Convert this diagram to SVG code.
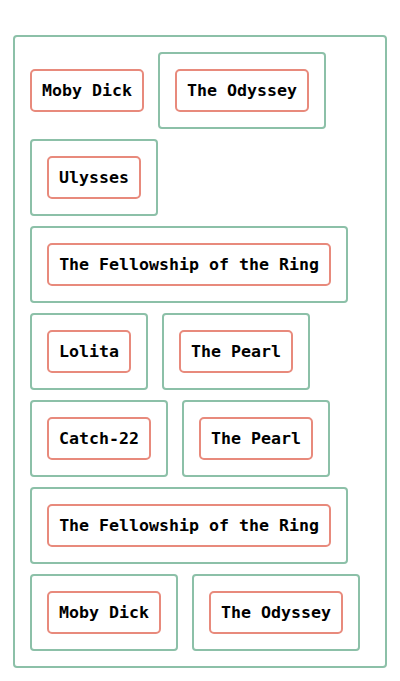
<svg xmlns="http://www.w3.org/2000/svg" width="400" height="681" viewBox="0 0 400 681">
<style>
.g{fill:#ffffff;stroke:#8cc0a8;stroke-width:2}
.r{fill:#ffffff;stroke:#e88a7c;stroke-width:2}
.t{font-family:"DejaVu Sans Mono",monospace;font-weight:bold;font-size:16.6px;fill:#000;text-anchor:middle;dominant-baseline:central}
</style>
<rect width="400" height="681" fill="#ffffff"/>
<g id="root"><rect class="g" x="14" y="36" width="372" height="631" rx="3"/></g>
<g id="n1"><rect class="r" x="31" y="70" width="112" height="41" rx="4"/><text class="t" x="87" y="90.5">Moby Dick</text></g>
<g id="c2"><rect class="g" x="159" y="53" width="166" height="75" rx="3"/></g>
<g id="n2"><rect class="r" x="176" y="70" width="132" height="41" rx="4"/><text class="t" x="242" y="90.5">The Odyssey</text></g>
<g id="c3"><rect class="g" x="31" y="140" width="126" height="75" rx="3"/></g>
<g id="n3"><rect class="r" x="48" y="157" width="92" height="41" rx="4"/><text class="t" x="94" y="177.5">Ulysses</text></g>
<g id="c4"><rect class="g" x="31" y="227" width="316" height="75" rx="3"/></g>
<g id="n4"><rect class="r" x="48" y="244" width="282" height="41" rx="4"/><text class="t" x="189" y="264.5">The Fellowship of the Ring</text></g>
<g id="c5"><rect class="g" x="31" y="314" width="116" height="75" rx="3"/></g>
<g id="n5"><rect class="r" x="48" y="331" width="82" height="41" rx="4"/><text class="t" x="89" y="351.5">Lolita</text></g>
<g id="c6"><rect class="g" x="163" y="314" width="146" height="75" rx="3"/></g>
<g id="n6"><rect class="r" x="180" y="331" width="112" height="41" rx="4"/><text class="t" x="236" y="351.5">The Pearl</text></g>
<g id="c7"><rect class="g" x="31" y="401" width="136" height="75" rx="3"/></g>
<g id="n7"><rect class="r" x="48" y="418" width="102" height="41" rx="4"/><text class="t" x="99" y="438.5">Catch-22</text></g>
<g id="c8"><rect class="g" x="183" y="401" width="146" height="75" rx="3"/></g>
<g id="n8"><rect class="r" x="200" y="418" width="112" height="41" rx="4"/><text class="t" x="256" y="438.5">The Pearl</text></g>
<g id="c9"><rect class="g" x="31" y="488" width="316" height="75" rx="3"/></g>
<g id="n9"><rect class="r" x="48" y="505" width="282" height="41" rx="4"/><text class="t" x="189" y="525.5">The Fellowship of the Ring</text></g>
<g id="c10"><rect class="g" x="31" y="575" width="146" height="75" rx="3"/></g>
<g id="n10"><rect class="r" x="48" y="592" width="112" height="41" rx="4"/><text class="t" x="104" y="612.5">Moby Dick</text></g>
<g id="c11"><rect class="g" x="193" y="575" width="166" height="75" rx="3"/></g>
<g id="n11"><rect class="r" x="210" y="592" width="132" height="41" rx="4"/><text class="t" x="276" y="612.5">The Odyssey</text></g>
<g id="connectors"></g>
</svg>
